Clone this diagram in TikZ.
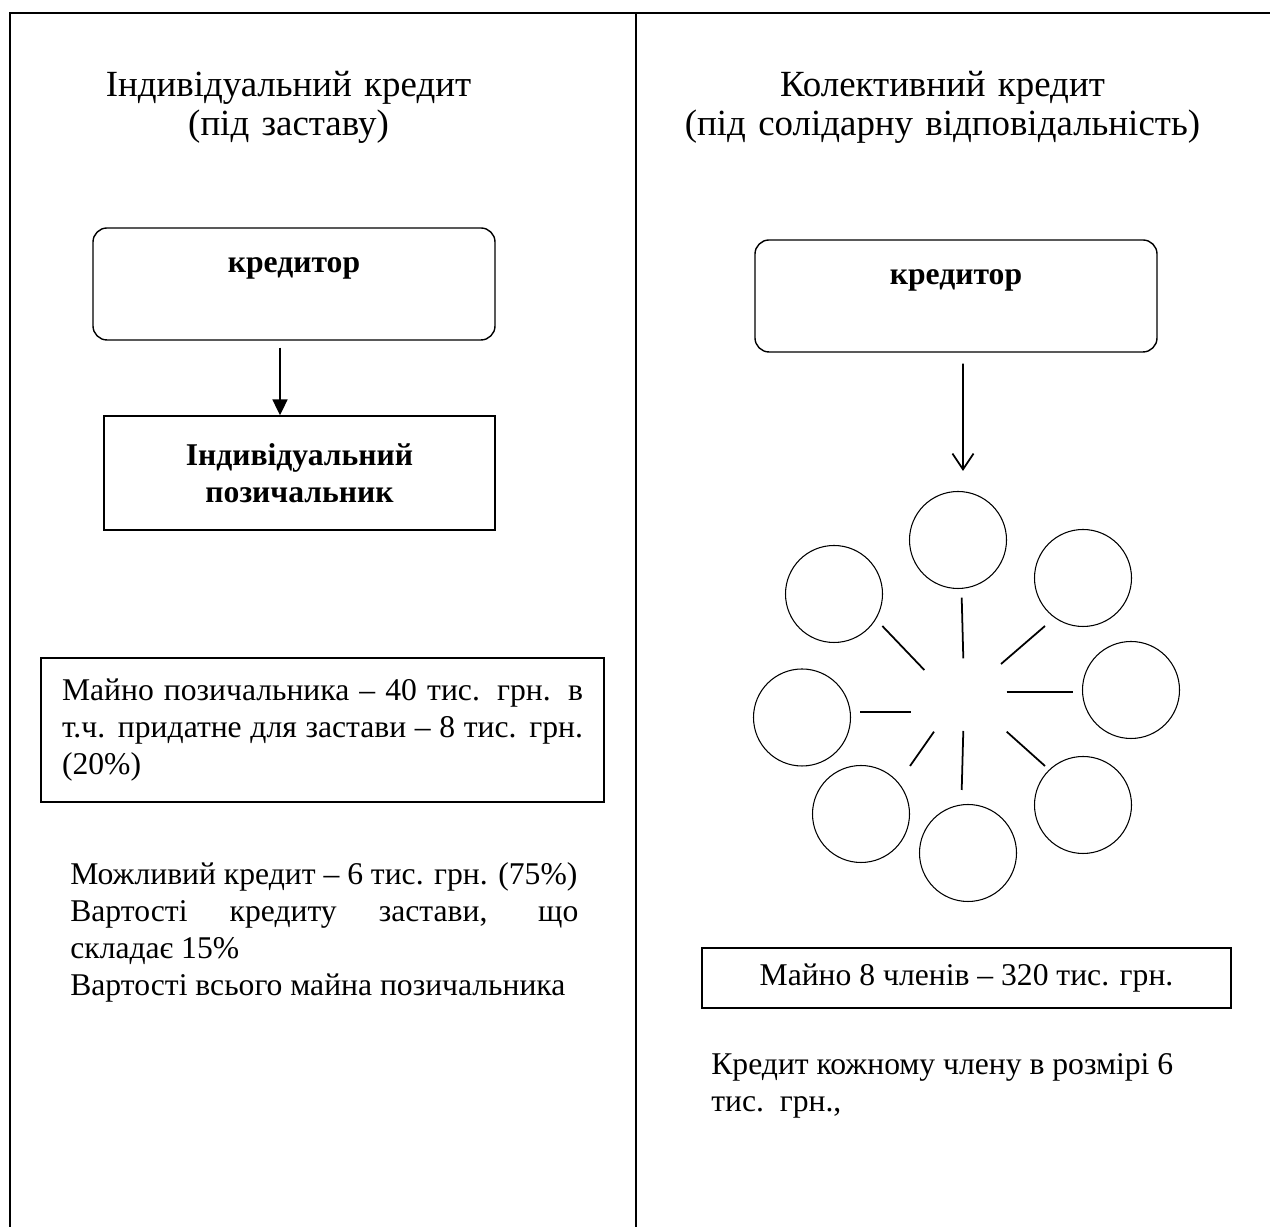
\documentclass[tikz,border=0pt]{standalone}
\usepackage{fontspec}
\setmainfont{Liberation Serif}
\usetikzlibrary{arrows.meta, calc}
\newcommand{\bodysize}{\fontsize{18}{21}\selectfont}
\newcommand{\titlesize}{\fontsize{21}{22}\selectfont}

\begin{document}
\begin{tikzpicture}
	\tikzset{
		frame/.style = {line width=1.1pt},
		title/.style = {text width=12cm, align=center, inner sep=0pt, anchor=base, font=\titlesize},
		lender/.style = {rectangle, draw, rounded corners=8pt, line width=0.8pt, minimum width=8.04cm, minimum height=2.24cm, align=center, font=\bodysize\bfseries},
		block/.style = {rectangle, draw, line width=0.8pt, align=center, font=\bodysize},
		member/.style = {circle, draw, line width=0.6pt, minimum size=1.94cm, inner sep=0pt},
		spoke/.style = {line width=1pt},
		note/.style = {text width=10.16cm, align=justify, inner sep=0pt, anchor=base west, font=\bodysize}
	}
	\useasboundingbox (0, 0) rectangle (25.4, 24.54);
	\draw[frame] (0.2, 0) -- (0.2, 24.28) -- (25.4, 24.28);
	\draw[frame] (12.72, 24.28) -- (12.72, 0);

	\node[title] (titleL) at (5.77, 22.60) {Індивідуальний кредит\\(під заставу)};
	\node[title] (titleR) at (18.85, 22.60) {Колективний кредит\\(під солідарну відповідальність)};

	\node[lender] (lenderL) at (5.88, 18.86) {кредитор\\\mbox{}};
	\node[block, minimum width=7.82cm, minimum height=2.28cm, font=\bodysize\bfseries] (borrower) at (5.99, 15.08) {Індивідуальний\\позичальник};
	\coordinate (armL) at ([xshift=-0.28cm, yshift=-0.14cm]lenderL.south);
	\draw [black, -{Triangle[length=9pt, width=8.5pt]}, line width=1pt] (armL) -- (armL |- borrower.north);

	\node[block, text width=10.42cm, inner xsep=0.42cm, minimum height=2.88cm, align=justify] (assetsL) at (6.45, 9.94) {Майно позичальника – 40 тис. грн. в\linebreak т.ч. придатне для застави – 8 тис. грн.\linebreak (20\%)};
	\node[note] (creditL) at (1.4, 6.84) {Можливий кредит – 6 тис. грн. (75\%)\\Вартості кредиту застави, що\linebreak складає 15\%\\Вартості всього майна позичальника};

	\node[lender] (lenderR) at (19.12, 18.62) {кредитор\\\mbox{}};
	\foreach \n/\x/\y in {1/19.16/13.74, 2/21.66/12.98, 3/22.62/10.74, 4/21.66/8.44, 5/19.36/7.48, 6/17.22/8.26, 7/16.04/10.19, 8/16.68/12.66}
		\node[member] (m\n) at (\x, \y) {};
	\coordinate (hub) at (19.26, 10.64);
	\foreach \ax/\ay/\bx/\by in {0.006/0.734/-0.026/1.946, 0.76/0.62/1.64/1.38, 0.874/0.06/2.206/0.06, 0.874/-0.734/1.64/-1.42, 0.006/-0.72/-0.026/-1.9, -0.58/-0.734/-1.06/-1.42, -1.046/-0.334/-2.06/-0.334, -0.774/0.5/-1.614/1.38}
		\draw[spoke] ($(hub)+(\ax, \ay)$) -- ($(hub)+(\bx, \by)$);
	\draw [black, -{Straight Barb[length=9pt, width=12pt]}, line width=1pt] ([xshift=0.14cm, yshift=-0.22cm]lenderR.south) -- ([xshift=0.1cm, yshift=0.4cm]m1.north);

	\node[block, minimum width=10.58cm, minimum height=1.2cm] (assetsR) at (19.33, 4.98) {Майно 8 членів – 320 тис. грн.};
	\node[note] (creditR) at (14.22, 3.04) {Кредит кожному члену в розмірі 6\\тис.~~грн.,};
\end{tikzpicture}
\end{document}
